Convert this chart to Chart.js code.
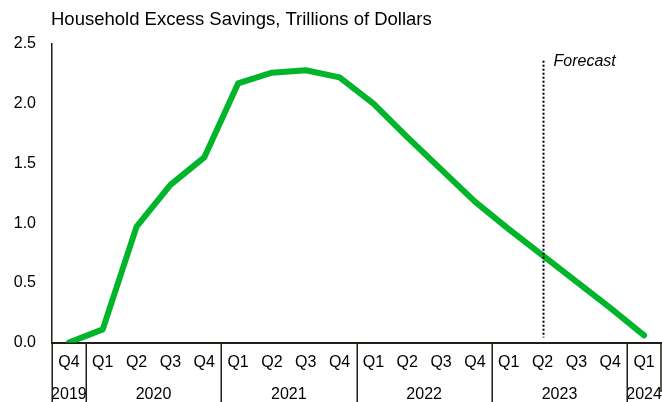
<!DOCTYPE html>
<html>
<head>
<meta charset="utf-8">
<script src="https://cdn.jsdelivr.net/npm/chart.js@4/dist/chart.umd.min.js"></script>
<style>
  html, body { margin: 0; padding: 0; background: #ffffff; }
  #wrap { width: 662px; height: 402px; position: relative; }
</style>
</head>
<body>
<div id="wrap"><canvas id="c" width="662" height="402"></canvas></div>
<script>
// Quarterly categories and their year groups
const quarters = ['Q4', 'Q1', 'Q2', 'Q3', 'Q4', 'Q1', 'Q2', 'Q3', 'Q4',
                  'Q1', 'Q2', 'Q3', 'Q4', 'Q1', 'Q2', 'Q3', 'Q4', 'Q1'];
const years = ['2019', '2020', '2021', '2022', '2023', '2024'];
const yearSpans = [1, 4, 4, 4, 4, 1];

// Household excess savings, trillions of dollars
const excessSavings = [0.00, 0.11, 0.97, 1.32, 1.55, 2.17, 2.26, 2.28, 2.22,
                       2.00, 1.72, 1.45, 1.18, 0.95, 0.73, 0.51, 0.29, 0.06];

const yTicks = [0, 0.5, 1.0, 1.5, 2.0, 2.5];
const forecastStartIndex = 14;
const titleText = 'Household Excess Savings, Trillions of Dollars';
const forecastText = 'Forecast';

const FONT = '"Liberation Sans", Arial, sans-serif';
const AXIS = '#1f2015';

const decorations = {
  id: 'decorations',
  afterDraw(chart) {
    const ctx = chart.ctx;
    const x = chart.scales.x;
    const y = chart.scales.y;
    const area = chart.chartArea;
    const H = chart.height;
    const step = x.getPixelForValue(1) - x.getPixelForValue(0);
    ctx.save();

    // title
    ctx.fillStyle = '#000';
    ctx.font = '18.5px ' + FONT;
    ctx.textAlign = 'left';
    ctx.textBaseline = 'middle';
    ctx.fillText(titleText, area.left - 1, 20);

    // forecast marker
    const fx = Math.round(x.getPixelForValue(forecastStartIndex)) + 0.5;
    ctx.strokeStyle = '#000';
    ctx.lineWidth = 2;
    ctx.setLineDash([2, 2]);
    ctx.beginPath();
    ctx.moveTo(fx, y.getPixelForValue(2.36));
    ctx.lineTo(fx, area.bottom - 5);
    ctx.stroke();
    ctx.setLineDash([]);
    ctx.font = 'italic 16px ' + FONT;
    ctx.fillText(forecastText, fx + 10, 62);

    // year group separators and labels
    ctx.strokeStyle = AXIS;
    ctx.lineWidth = 1.5;
    let idx = 0;
    const edges = [];
    years.forEach((yr, i) => {
      const left = x.getPixelForValue(idx) - step / 2;
      const right = x.getPixelForValue(idx + yearSpans[i] - 1) + step / 2;
      edges.push(left);
      if (i === years.length - 1) edges.push(right);
      ctx.fillStyle = '#000';
      ctx.font = '16px ' + FONT;
      ctx.textAlign = 'center';
      ctx.fillText(yr, (left + right) / 2, 395);
      idx += yearSpans[i];
    });
    edges.forEach((e, i) => {
      ctx.beginPath();
      const ex = Math.min(Math.round(e) + 0.25, chart.width - 1);
      ctx.moveTo(ex, area.bottom);
      ctx.lineTo(ex, i === edges.length - 1 ? 392 : H);
      ctx.stroke();
    });
    ctx.restore();
  }
};

new Chart(document.getElementById('c'), {
  type: 'line',
  data: {
    labels: quarters,
    datasets: [{
      data: excessSavings,
      borderColor: '#00b52a',
      borderWidth: 6,
      borderCapStyle: 'round',
      borderJoinStyle: 'round',
      pointRadius: 0,
      tension: 0,
      fill: false
    }]
  },
  options: {
    responsive: false,
    animation: false,
    devicePixelRatio: 1,
    layout: { padding: { top: 44, right: 1, left: 0, bottom: 0 } },
    plugins: { legend: { display: false }, title: { display: false }, tooltip: { enabled: false } },
    scales: {
      x: {
        type: 'category',
        offset: true,
        grid: { display: false },
        border: { display: true, color: AXIS, width: 2 },
        ticks: {
          color: '#000',
          font: { family: FONT, size: 16 },
          padding: 2,
          maxRotation: 0,
          autoSkip: false
        },
        afterFit(s) { s.height = 59.5; }
      },
      y: {
        min: 0,
        max: 2.5,
        afterBuildTicks(s) { s.ticks = yTicks.map(v => ({ value: v })); },
        grid: { display: false },
        border: { display: true, color: AXIS, width: 1.5 },
        ticks: {
          color: '#000',
          font: { family: FONT, size: 16 },
          padding: 8,
          callback: v => Number(v).toFixed(1)
        },
        afterFit(s) { s.width = 52; }
      }
    }
  },
  plugins: [decorations]
});
</script>
</body>
</html>
